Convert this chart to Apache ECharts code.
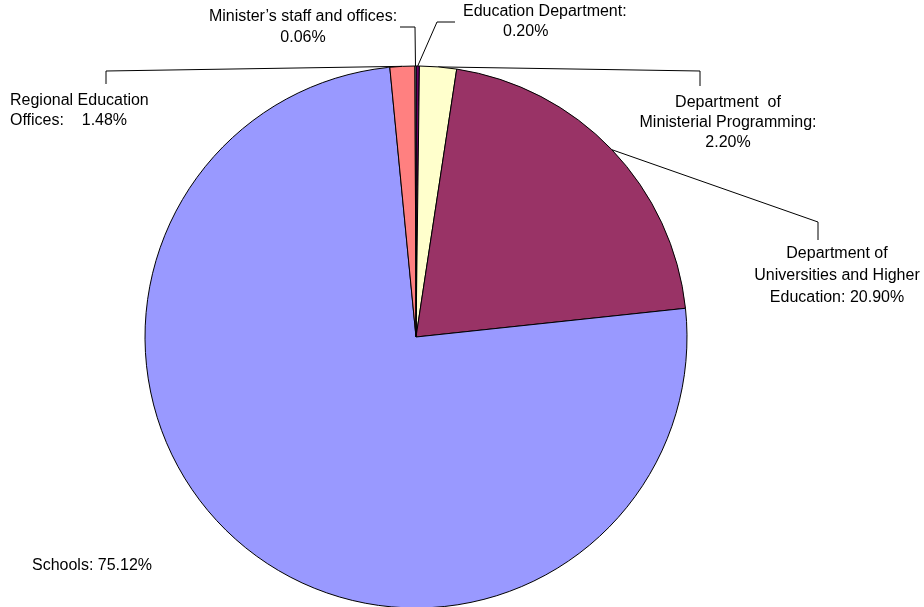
<!DOCTYPE html>
<html>
<head>
<meta charset="utf-8">
<title>Education budget breakdown</title>
<script src="https://cdn.jsdelivr.net/npm/echarts@6/dist/echarts.min.js"></script>
<style>
  html, body { margin: 0; padding: 0; background: #ffffff; }
  #chart { width: 924px; height: 607px; }
</style>
</head>
<body>
<div id="chart"></div>
<script>
// Slices in clockwise order starting at 12 o'clock
var categories = [
  'Education Department',
  'Department  of Ministerial Programming',
  'Department of Universities and Higher Education',
  'Schools',
  'Regional Education Offices',
  'Minister\u2019s staff and offices'
];
var shares = [0.20, 2.20, 20.90, 75.12, 1.48, 0.06];
var labelTexts = [
  'Education Department:\n         0.20%',
  'Department  of\nMinisterial Programming:\n2.20%',
  'Department of\nUniversities and Higher\nEducation: 20.90%',
  'Schools: 75.12%',
  'Regional Education\nOffices:    1.48%',
  'Minister\u2019s staff and offices:\n0.06%'
];
var sliceColors = ['#660066', '#FFFFCC', '#993366', '#9999FF', '#FF8080', '#CCFFFF'];

// Pie geometry
var CX = 416, CY = 337, R = 271;

// Label placement: anchor, alignment and leader-line elbows
var labelPlacement = [
  { x: 463, y: 2,   align: 'left',   lh: 20, line: [[437, 22], [455, 22]] },
  { x: 728, y: 93,  align: 'center', lh: 20, line: [[700, 71], [700, 86]] },
  { x: 837, y: 243, align: 'center', lh: 22, line: [[818, 222], [818, 240]] },
  { x: 32,  y: 556, align: 'left',   lh: 20, line: null },
  { x: 10,  y: 91,  align: 'left',   lh: 20, line: [[106, 71], [106, 84]] },
  { x: 303, y: 6,   align: 'center', lh: 21, line: [[415, 27], [400, 27]] }
];

// Point on the rim at the middle of each slice
var total = shares.reduce(function (a, b) { return a + b; }, 0);
function rimPoint(idx) {
  var before = 0;
  for (var i = 0; i < idx; i++) before += shares[i];
  var mid = (before + shares[idx] / 2) / total * Math.PI * 2;
  return [CX + R * Math.sin(mid), CY - R * Math.cos(mid)];
}

var data = categories.map(function (name, i) {
  var p = labelPlacement[i];
  return {
    name: name,
    value: shares[i],
    itemStyle: { color: sliceColors[i] },
    label: { formatter: labelTexts[i], lineHeight: p.lh, align: p.align },
    labelLine: { show: !!p.line }
  };
});

var chart = echarts.init(document.getElementById('chart'), null, { renderer: 'canvas' });
chart.setOption({
  animation: false,
  backgroundColor: '#ffffff',
  series: [{
    type: 'pie',
    center: [CX, CY],
    radius: [0, R],
    startAngle: 90,
    clockwise: true,
    avoidLabelOverlap: false,
    minAngle: 0,
    data: data,
    itemStyle: { borderColor: '#000000', borderWidth: 1 },
    emphasis: { disabled: true },
    label: {
      show: true,
      position: 'outside',
      color: '#000000',
      fontSize: 16,
      fontFamily: 'Liberation Sans, Arial, sans-serif'
    },
    labelLine: {
      show: true,
      length: 10,
      length2: 10,
      lineStyle: { color: '#000000', width: 1 }
    },
    labelLayout: function (params) {
      var i = params.dataIndex;
      var p = labelPlacement[i];
      var out = { x: p.x, y: p.y, align: p.align, verticalAlign: 'top' };
      if (p.line) {
        out.labelLinePoints = [rimPoint(i), p.line[0], p.line[1]];
      }
      return out;
    }
  }]
});
</script>
</body>
</html>
